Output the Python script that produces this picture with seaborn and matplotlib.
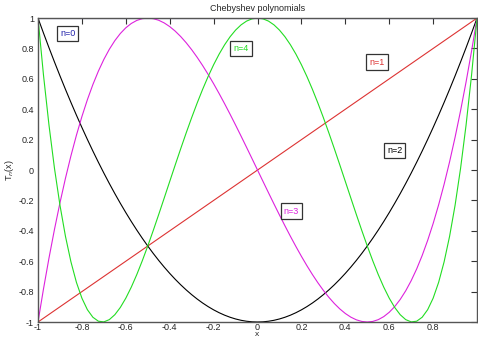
import numpy as np
import pandas as pd
import matplotlib
matplotlib.use("Agg")
import matplotlib.pyplot as plt
import seaborn as sns

# Sample abscissae, step 0.025 from -1 to 1
x = [round(-1 + 0.025 * i, 3) for i in range(81)]

# Values on the right half (x = 0 ... 1); left half follows from parity
t2_right = [-1.0, -0.99875, -0.995, -0.98875, -0.98, -0.96875, -0.955, -0.93875, -0.92, -0.89875,
            -0.875, -0.84875, -0.82, -0.78875, -0.755, -0.71875, -0.68, -0.63875, -0.595, -0.54875,
            -0.5, -0.44875, -0.395, -0.33875, -0.28, -0.21875, -0.155, -0.08875, -0.02, 0.05125,
            0.125, 0.20125, 0.28, 0.36125, 0.445, 0.53125, 0.62, 0.71125, 0.805, 0.90125, 1.0]
t3_right = [0.0, -0.07494, -0.1495, -0.22331, -0.296, -0.36719, -0.4365, -0.50356, -0.568, -0.62944,
            -0.6875, -0.74181, -0.792, -0.83769, -0.8785, -0.91406, -0.944, -0.96794, -0.9855, -0.99631,
            -1.0, -0.99619, -0.9845, -0.96456, -0.936, -0.89844, -0.8515, -0.79481, -0.728, -0.65069,
            -0.5625, -0.46306, -0.352, -0.22894, -0.0935, 0.05469, 0.216, 0.39081, 0.5795, 0.78244, 1.0]
t4_right = [1.0, 0.995, 0.98005, 0.95525, 0.9208, 0.87695, 0.82405, 0.7625, 0.6928, 0.6155,
            0.53125, 0.44075, 0.3448, 0.24425, 0.14005, 0.0332, -0.0752, -0.184, -0.29195, -0.39775,
            -0.5, -0.59725, -0.68795, -0.7705, -0.8432, -0.9043, -0.95195, -0.98425, -0.9992, -0.99475,
            -0.96875, -0.919, -0.8432, -0.739, -0.60395, -0.43555, -0.2312, 0.01175, 0.29605, 0.6245, 1.0]

t0 = [1.0] * len(x)
t1 = list(x)
t2 = t2_right[:0:-1] + t2_right
t3 = [-v for v in t3_right[:0:-1]] + t3_right
t4 = t4_right[:0:-1] + t4_right

orders = ["n=0", "n=1", "n=2", "n=3", "n=4"]
series = [t0, t1, t2, t3, t4]
colors = ["#2222aa", "#dd3333", "#000000", "#dd22dd", "#22dd22"]
label_pos = [(-0.9, 0.9), (0.51, 0.71), (0.59, 0.13), (0.12, -0.27), (-0.11, 0.8)]

df = pd.DataFrame({
    "x": x * len(series),
    "T": [v for s in series for v in s],
    "n": [o for o in orders for _ in x],
})

sns.set_style("white")
plt.rcParams["font.family"] = ["Liberation Sans", "DejaVu Sans"]
plt.rcParams["xtick.direction"] = "in"
plt.rcParams["ytick.direction"] = "in"

fig = plt.figure(figsize=(4.78, 3.41), dpi=100)
ax = fig.add_axes([0.0795, 0.0557, 0.9185, 0.8913])

sns.lineplot(data=df, x="x", y="T", hue="n", palette=dict(zip(orders, colors)),
             linewidth=0.8, legend=False, ax=ax, estimator=None, sort=False)

for name, col, (px, py) in zip(orders, colors, label_pos):
    ax.text(px, py, name, color=col, fontsize=6.5, va="center", ha="left", zorder=5,
            bbox=dict(boxstyle="square,pad=0.35", fc="white", ec="#333333", lw=0.9))

ax.set_xlim(-1, 1)
ax.set_ylim(-1, 1)
ax.set_xticks(np.arange(-1, 0.81, 0.2))
ax.set_xticklabels(["-1", "-0.8", "-0.6", "-0.4", "-0.2", "0", "0.2", "0.4", "0.6", "0.8"])
ax.set_yticks(np.arange(-1, 1.01, 0.2))
ax.set_yticklabels(["-1", "-0.8", "-0.6", "-0.4", "-0.2", "0", "0.2", "0.4", "0.6", "0.8", "1"])
ax.tick_params(axis="x", pad=1)
ax.tick_params(axis="both", labelsize=6.5, length=4, width=0.8, color="#333333",
               top=True, right=True)
ax.tick_params(axis="y", pad=3)
for sp in ax.spines.values():
    sp.set_color("#555555")
    sp.set_linewidth(1.0)
    sp.set_zorder(6)

ax.set_xlabel("x", fontsize=6, labelpad=-1)
ax.set_ylabel("T$_n$(x)", fontsize=6.5)
ax.yaxis.set_label_coords(-0.05, 0.5)
ax.set_title("Chebyshev polynomials", fontsize=6.5, pad=5)

fig.savefig("out.png", dpi=100)
